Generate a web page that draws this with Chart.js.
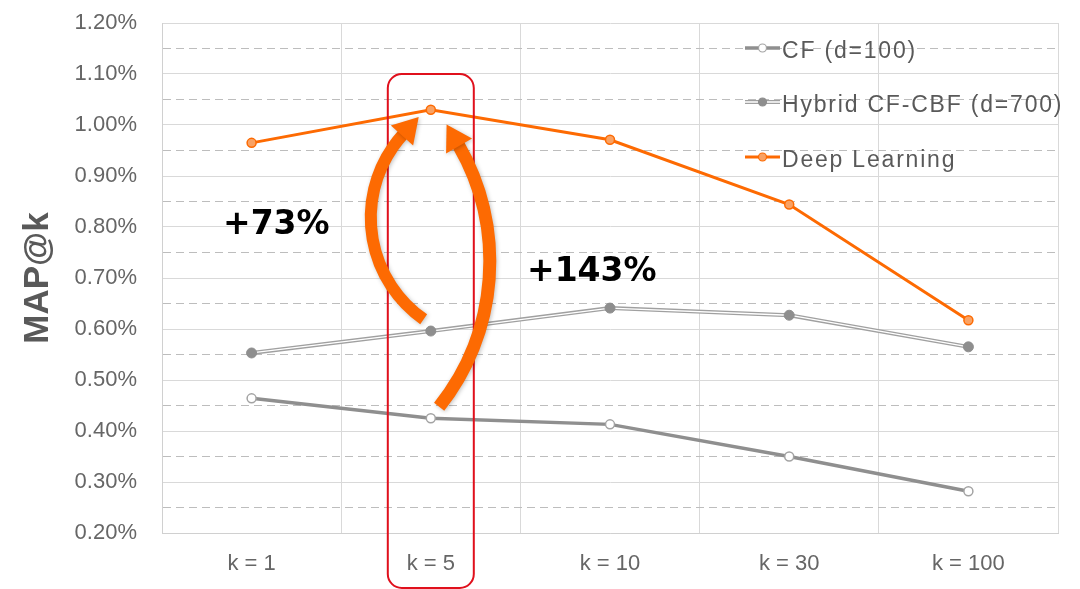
<!DOCTYPE html>
<html>
<head>
<meta charset="utf-8">
<title>MAP@k by cut-off</title>
<script src="https://cdn.jsdelivr.net/npm/chart.js@4.4.1/dist/chart.umd.min.js"></script>
<style>
  html, body { margin: 0; padding: 0; background: #fff; }
  .chart-box { position: relative; width: 1080px; height: 589px; }
</style>
</head>
<body>
<div class="chart-box"><canvas id="mapChart"></canvas></div>
<script>
// values are MAP@k in percent
const categories = ['k = 1', 'k = 5', 'k = 10', 'k = 30', 'k = 100'];
const seriesNames = ['CF (d=100)', 'Hybrid CF-CBF (d=700)', 'Deep Learning'];
const cfValues = [0.464, 0.425, 0.413, 0.350, 0.282];
const hybridValues = [0.553, 0.596, 0.641, 0.627, 0.565];
const deepValues = [0.965, 1.030, 0.971, 0.844, 0.617];
const yMin = 0.2, yMax = 1.2, yStep = 0.05;
const gainLabels = ['+73%', '+143%'];
const highlightIndex = 1; // the k = 5 column

const FONT = '"Liberation Sans", Arial, Helvetica, sans-serif';
const ORANGE = '#fd6a02';
Chart.defaults.font.family = FONT;

const isMajor = v => Math.round(v * 100) % 10 === 0;
const deg = d => d * Math.PI / 180;

// hybrid series is drawn as a double (outlined) line
const doubleLinePlugin = {
    id: 'doubleLine',
    beforeDatasetDraw(chart, args) {
        const ds = chart.data.datasets[args.index];
        if (!ds.outlineColor) return;
        const pts = args.meta.data;
        const ctx = chart.ctx;
        ctx.save();
        ctx.lineJoin = 'round';
        ctx.beginPath();
        pts.forEach((p, i) => i ? ctx.lineTo(p.x, p.y) : ctx.moveTo(p.x, p.y));
        ctx.strokeStyle = ds.outlineColor;
        ctx.lineWidth = 4;
        ctx.stroke();
        ctx.strokeStyle = '#fff';
        ctx.lineWidth = 1.3;
        ctx.stroke();
        ctx.restore();
    }
};

// curved arrow along a circle arc, head at the end angle
function drawArcArrow(ctx, cx, cy, r, a0, a1, anticlockwise, width) {
    const ex = cx + r * Math.cos(a1), ey = cy + r * Math.sin(a1);
    const tx = anticlockwise ? Math.sin(a1) : -Math.sin(a1);
    const ty = anticlockwise ? -Math.cos(a1) : Math.cos(a1);
    const headLen = 24, headHalf = 15;
    ctx.save();
    ctx.shadowColor = 'rgba(0,0,0,0.25)';
    ctx.shadowBlur = 4;
    ctx.shadowOffsetX = 1;
    ctx.shadowOffsetY = 1;
    ctx.strokeStyle = ORANGE;
    ctx.fillStyle = ORANGE;
    ctx.lineWidth = width;
    ctx.beginPath();
    ctx.arc(cx, cy, r, a0, a1, anticlockwise);
    ctx.stroke();
    ctx.beginPath();
    ctx.moveTo(ex + tx * headLen, ey + ty * headLen);
    ctx.lineTo(ex - ty * headHalf - tx, ey + tx * headHalf - ty);
    ctx.lineTo(ex + ty * headHalf - tx, ey - tx * headHalf - ty);
    ctx.closePath();
    ctx.fill();
    ctx.restore();
}

function roundRect(ctx, x, y, w, h, r) {
    ctx.beginPath();
    ctx.moveTo(x + r, y);
    ctx.arcTo(x + w, y, x + w, y + h, r);
    ctx.arcTo(x + w, y + h, x, y + h, r);
    ctx.arcTo(x, y + h, x, y, r);
    ctx.arcTo(x, y, x + w, y, r);
    ctx.closePath();
}

const annotationPlugin = {
    id: 'annotations',
    afterDraw(chart) {
        const ctx = chart.ctx;
        const xs = chart.scales.x, ys = chart.scales.y;
        const area = chart.chartArea;
        const xc = xs.getPixelForValue(highlightIndex);
        const yTop = ys.getPixelForValue(deepValues[highlightIndex]);

        // red highlight box around k = 5
        ctx.save();
        ctx.strokeStyle = '#e0101c';
        ctx.lineWidth = 2;
        const boxTop = ys.getPixelForValue(1.1);
        roundRect(ctx, xc - 43, boxTop, 86, chart.height - 1 - boxTop, 14);
        ctx.stroke();
        ctx.restore();

        // arrows: hybrid -> deep (left), CF -> deep (right)
        drawArcArrow(ctx, xc + 64, yTop + 108, 124, deg(125), deg(222), false, 12);
        drawArcArrow(ctx, xc - 174, yTop + 152, 233, deg(38.5), deg(-30), true, 13);

        // gain labels
        ctx.save();
        ctx.font = 'bold 33px "DejaVu Sans", ' + FONT;
        ctx.fillStyle = '#000';
        ctx.textAlign = 'left';
        ctx.textBaseline = 'alphabetic';
        ctx.fillText(gainLabels[0], area.left + 61, 234);
        ctx.fillText(gainLabels[1], area.left + 365, 281);
        ctx.restore();

        // legend, top right inside the plot
        const lx = area.left + 583;
        const rows = [48, 102, 157];
        ctx.save();
        chart.data.datasets.forEach((ds, i) => {
            if (!ds.label) return;
            const y = rows[i];
            ctx.lineCap = 'butt';
            if (ds.outlineColor) {
                ctx.strokeStyle = ds.outlineColor;
                ctx.lineWidth = 4;
                ctx.beginPath(); ctx.moveTo(lx, y); ctx.lineTo(lx + 35, y); ctx.stroke();
                ctx.strokeStyle = '#fff';
                ctx.lineWidth = 1.3;
                ctx.stroke();
            } else {
                ctx.strokeStyle = ds.borderColor;
                ctx.lineWidth = ds.borderWidth;
                ctx.beginPath(); ctx.moveTo(lx, y); ctx.lineTo(lx + 35, y); ctx.stroke();
            }
            ctx.beginPath();
            ctx.arc(lx + 17.5, y, 4, 0, Math.PI * 2);
            ctx.fillStyle = ds.pointBackgroundColor;
            ctx.fill();
            ctx.strokeStyle = ds.pointBorderColor;
            ctx.lineWidth = 1.2;
            ctx.stroke();

            ctx.font = '23px ' + FONT;
            ctx.letterSpacing = '1.8px';
            ctx.fillStyle = '#595959';
            ctx.textAlign = 'left';
            ctx.textBaseline = 'alphabetic';
            ctx.fillText(ds.label, lx + 37, y + 10);
        });
        ctx.restore();
    }
};

new Chart(document.getElementById('mapChart'), {
    type: 'line',
    data: {
        labels: categories,
        datasets: [{
            label: seriesNames[0],
            data: cfValues,
            borderColor: '#8f8f8f',
            borderWidth: 3.5,
            pointRadius: 4.5,
            pointBackgroundColor: '#ffffff',
            pointBorderColor: '#a3a3a3',
            pointBorderWidth: 1.5
        }, {
            label: seriesNames[1],
            data: hybridValues,
            showLine: false,
            outlineColor: '#a0a0a0',
            borderColor: '#a0a0a0',
            pointRadius: 5,
            pointBackgroundColor: '#8e8e8e',
            pointBorderColor: '#8e8e8e',
            pointBorderWidth: 1
        }, {
            label: seriesNames[2],
            data: deepValues,
            borderColor: ORANGE,
            borderWidth: 3,
            pointRadius: 4.5,
            pointBackgroundColor: '#f9a264',
            pointBorderColor: ORANGE,
            pointBorderWidth: 1.5
        }]
    },
    options: {
        responsive: true,
        maintainAspectRatio: false,
        animation: false,
        layout: { padding: { top: 23, right: 22, bottom: 0, left: 0 } },
        plugins: {
            legend: { display: false },
            tooltip: { enabled: false }
        },
        scales: {
            x: {
                type: 'category',
                offset: true,
                grid: { offset: true, color: '#d9d9d9', drawTicks: false },
                border: { color: '#d0d0d0' },
                ticks: { font: { size: 22 }, color: '#666666', padding: 18 },
                afterFit(scale) { scale.height = 56; }
            },
            y: {
                min: yMin,
                max: yMax,
                grid: {
                    drawTicks: false,
                    color: ctx => ctx.tick && !isMajor(ctx.tick.value) ? '#bdbdbd' : '#d9d9d9'
                },
                border: {
                    color: '#d0d0d0',
                    dash: ctx => ctx.tick && !isMajor(ctx.tick.value) ? [8, 5] : []
                },
                ticks: {
                    stepSize: yStep,
                    autoSkip: false,
                    font: { size: 22 },
                    color: '#666666',
                    padding: 25,
                    callback: v => isMajor(v) ? v.toFixed(2) + '%' : ''
                },
                title: {
                    display: true,
                    text: 'MAP@k',
                    color: '#595959',
                    font: { size: 35, weight: 'bold' },
                    padding: { top: 17, bottom: 0 }
                },
                afterFit(scale) {
                    scale.width = 162;
                    scale.paddingTop = 0;
                    scale.paddingBottom = 0;
                }
            }
        }
    },
    plugins: [doubleLinePlugin, annotationPlugin]
});
</script>
</body>
</html>
